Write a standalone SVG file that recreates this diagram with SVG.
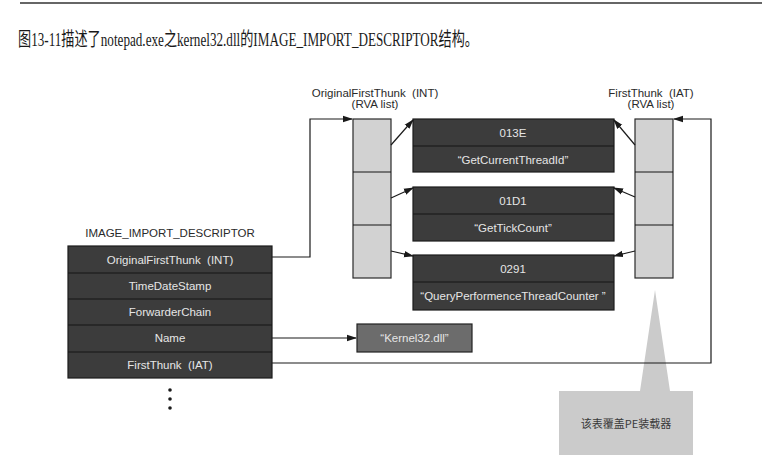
<svg xmlns="http://www.w3.org/2000/svg" width="762" height="470" viewBox="0 0 762 470">
<defs>
<marker id="ah" markerWidth="10" markerHeight="8" refX="9" refY="4" orient="auto" markerUnits="userSpaceOnUse">
<path d="M0,0.8 L10,4 L0,7.2 Z" fill="#1a1a1a"/>
</marker>
<style>
.dark{fill:#3c3c3c;stroke:#1c1c1c;stroke-width:1.2}
.cell{fill:#d2d2d2;stroke:#2a2a2a;stroke-width:1.2}
.div{stroke:#151515;stroke-width:1.2}
.wt{font-family:"Liberation Sans",Arial,sans-serif;font-size:11.5px;fill:#e6e6e6;text-anchor:middle}
.lb{font-family:"Liberation Sans",Arial,sans-serif;font-size:11.5px;fill:#2a2a2a;text-anchor:middle}
.con{fill:none;stroke:#1a1a1a;stroke-width:1.2}
</style>
</defs>
<rect width="762" height="470" fill="#ffffff"/>
<line x1="20" y1="3" x2="762" y2="3" stroke="#333" stroke-width="1.5"/>
<text x="18" y="46" font-family="'Liberation Serif','Noto Sans CJK SC',serif" font-size="19" fill="#1a1a1a" textLength="460" lengthAdjust="spacingAndGlyphs">图13-11描述了notepad.exe之kernel32.dll的IMAGE_IMPORT_DESCRIPTOR结构。</text>

<g id="descriptor">
<text class="lb" x="170" y="237">IMAGE_IMPORT_DESCRIPTOR</text>
<rect class="dark" x="68" y="246" width="204" height="132"/>
<line class="div" x1="68" y1="273" x2="272" y2="273"/>
<line class="div" x1="68" y1="299" x2="272" y2="299"/>
<line class="div" x1="68" y1="325" x2="272" y2="325"/>
<line class="div" x1="68" y1="352" x2="272" y2="352"/>
<text class="wt" x="170" y="264">OriginalFirstThunk&#160; (INT)</text>
<text class="wt" x="170" y="290">TimeDateStamp</text>
<text class="wt" x="170" y="316">ForwarderChain</text>
<text class="wt" x="170" y="342">Name</text>
<text class="wt" x="170" y="369">FirstThunk&#160; (IAT)</text>
<circle cx="170" cy="390" r="1.8" fill="#1a1a1a"/>
<circle cx="170" cy="399" r="1.8" fill="#1a1a1a"/>
<circle cx="170" cy="408" r="1.8" fill="#1a1a1a"/>
</g>

<g id="int-list">
<text class="lb" x="375" y="97">OriginalFirstThunk&#160; (INT)</text>
<text class="lb" x="375" y="108">(RVA list)</text>
<rect class="cell" x="353" y="119" width="38" height="159"/>
<line class="div" x1="353" y1="172" x2="391" y2="172"/>
<line class="div" x1="353" y1="225" x2="391" y2="225"/>
</g>

<g id="iat-list">
<text class="lb" x="651" y="97">FirstThunk&#160; (IAT)</text>
<text class="lb" x="651" y="108">(RVA list)</text>
<rect class="cell" x="635" y="119" width="38" height="159"/>
<line class="div" x1="635" y1="172" x2="673" y2="172"/>
<line class="div" x1="635" y1="225" x2="673" y2="225"/>
</g>

<g id="fn1">
<rect class="dark" x="413" y="119" width="201" height="53"/>
<line class="div" x1="413" y1="146" x2="614" y2="146"/>
<text class="wt" x="513" y="137">013E</text>
<text class="wt" x="513" y="164">“GetCurrentThreadId”</text>
</g>
<g id="fn2">
<rect class="dark" x="413" y="187" width="201" height="54"/>
<line class="div" x1="413" y1="214" x2="614" y2="214"/>
<text class="wt" x="513" y="205">01D1</text>
<text class="wt" x="513" y="232">“GetTickCount”</text>
</g>
<g id="fn3">
<rect class="dark" x="413" y="255" width="201" height="55"/>
<line class="div" x1="413" y1="282" x2="614" y2="282"/>
<text class="wt" x="513" y="273">0291</text>
<text class="wt" x="513" y="300">“QueryPerformenceThreadCounter ”</text>
</g>

<g id="kernel32">
<rect x="357" y="324" width="115" height="28" fill="#6c6c6c" stroke="#222" stroke-width="1.2"/>
<text class="wt" x="414.5" y="342">“Kernel32.dll”</text>
</g>

<g id="callout">
<path d="M655,290 L670,391 L693,391 L693,455 L559,455 L559,391 L640,391 Z" fill="#cbcbcb"/>
<text x="626" y="428" font-family="'Noto Sans CJK SC',sans-serif" font-size="11" fill="#3a3a3a" text-anchor="middle">该表覆盖PE装载器</text>
</g>

<g id="connectors">
<polyline class="con" points="272,257 310,257 310,119 352,119" marker-end="url(#ah)"/>
<line class="con" x1="272" y1="338" x2="356" y2="338" marker-end="url(#ah)"/>
<polyline class="con" points="272,363 711,363 711,119 674,119" marker-end="url(#ah)"/>
<line class="con" x1="391" y1="145" x2="413" y2="120" marker-end="url(#ah)"/>
<line class="con" x1="391" y1="198" x2="413" y2="188" marker-end="url(#ah)"/>
<line class="con" x1="391" y1="251" x2="413" y2="256" marker-end="url(#ah)"/>
<line class="con" x1="635" y1="145" x2="614" y2="120" marker-end="url(#ah)"/>
<line class="con" x1="635" y1="197" x2="614" y2="188" marker-end="url(#ah)"/>
<line class="con" x1="635" y1="251" x2="614" y2="256" marker-end="url(#ah)"/>
</g>
</svg>
